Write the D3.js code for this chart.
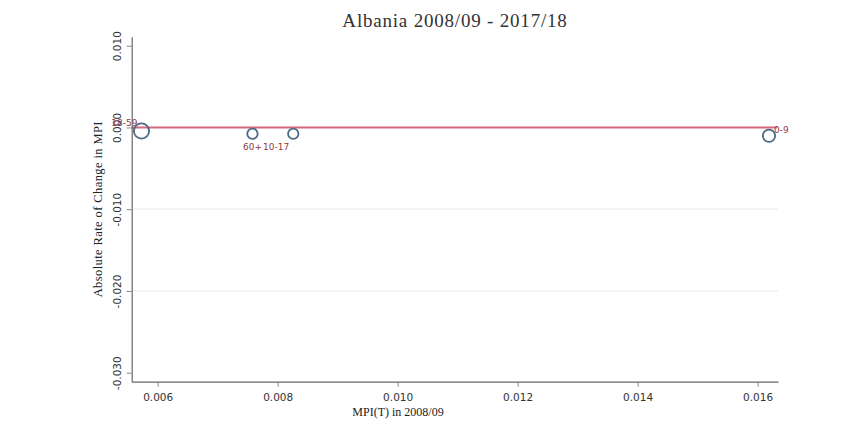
<!DOCTYPE html>
<html>
<head>
<meta charset="utf-8">
<script src="https://cdn.jsdelivr.net/npm/d3@7"></script>
<style>
  html, body { margin: 0; padding: 0; background: #fff; }
  svg { display: block; }
</style>
</head>
<body>
<svg id="chart" width="866" height="432"></svg>
<script>
// ---- data ----
const groups      = ["18-59", "60+", "10-17", "0-9"];
const mpi2008     = [0.00573, 0.00758, 0.00826, 0.01619];
const absChange   = [-0.00044, -0.00077, -0.00077, -0.00102];
const popWeight   = [64, 30, 30, 42];
const xTickValues = [0.006, 0.008, 0.010, 0.012, 0.014, 0.016];
const yTickValues = [0.010, 0.000, -0.010, -0.020, -0.030];
const gridValues  = [0.000, -0.010, -0.020];
const refLineY    = 0.0;
const titleText   = "Albania 2008/09 - 2017/18";
const xTitleText  = "MPI(T) in 2008/09";
const yTitleText  = "Absolute Rate of Change in MPI";

// ---- layout ----
const svg = d3.select("#chart");
const plot = { left: 131.7, right: 778, top: 36.7, bottom: 381.7 };

const x = d3.scaleLinear().domain([0.005567, 0.01634]).range([plot.left, plot.right]);
const y = d3.scaleLinear().domain([-0.0311, 0.0111]).range([plot.bottom, plot.top]);
const r = d3.scaleSqrt().domain([0, 64]).range([0, 7.6]);

const serif = "'Liberation Serif', 'Times New Roman', serif";
const sans = "'DejaVu Sans', Verdana, sans-serif";
const fmt = d => d3.format(".3f")(d).replace("\u2212", "-");

// gridlines
svg.append("g").selectAll("line").data(gridValues).join("line")
  .attr("x1", plot.left).attr("x2", plot.right)
  .attr("y1", d => y(d)).attr("y2", d => y(d))
  .attr("stroke", "#eaf0f2").attr("stroke-width", 1.2);

// reference line
svg.append("line")
  .attr("x1", plot.left).attr("x2", plot.right - 1)
  .attr("y1", y(refLineY)).attr("y2", y(refLineY))
  .attr("stroke", "#d8687d").attr("stroke-width", 2);

// x axis
const xAxis = d3.axisBottom(x).tickValues(xTickValues).tickFormat(fmt)
  .tickSize(5).tickSizeOuter(0);
const gx = svg.append("g").attr("transform", `translate(0,${plot.bottom})`).call(xAxis);
gx.select(".domain").attr("stroke", "#666").attr("stroke-width", 1.2);
gx.selectAll(".tick line").attr("stroke", "#888");
gx.selectAll(".tick text").attr("font-family", sans).attr("font-size", 10.5)
  .attr("fill", "#333").attr("dy", "1.05em");

// y axis
const yAxis = d3.axisLeft(y).tickValues(yTickValues).tickFormat(fmt)
  .tickSize(5).tickSizeOuter(0);
const gy = svg.append("g").attr("transform", `translate(${plot.left},0)`).call(yAxis);
gy.select(".domain").attr("stroke", "#666").attr("stroke-width", 1.2);
gy.selectAll(".tick line").attr("stroke", "#888");
gy.selectAll(".tick text")
  .attr("font-family", sans).attr("font-size", 10.5).attr("fill", "#333")
  .attr("x", null).attr("dy", null)
  .attr("text-anchor", "middle")
  .attr("transform", "translate(-11,0) rotate(-90)")
  .attr("y", 0);

// points
const pts = groups.map((g, i) => ({ g, x: mpi2008[i], y: absChange[i], w: popWeight[i] }));
svg.append("g").selectAll("circle").data(pts).join("circle")
  .attr("cx", d => x(d.x)).attr("cy", d => y(d.y)).attr("r", d => r(d.w))
  .attr("fill", "none").attr("stroke", "#4a6a86").attr("stroke-width", 1.8);

// labels (Stata-like clock positions)
const clock = { "18-59": 10, "60+": 6, "10-17": 7, "0-9": 2 };
svg.append("g").selectAll("text").data(pts).join("text")
  .attr("font-family", sans).attr("font-size", 9).attr("fill", "#8e3a3e")
  .attr("x", d => {
    const cx = x(d.x), c = clock[d.g];
    if (c === 10) return cx - 4;
    if (c === 7) return cx - 4;
    if (c === 2) return cx + 5;
    return cx;
  })
  .attr("y", d => {
    const cy = y(d.y), c = clock[d.g];
    if (c === 10) return cy - 5;
    if (c === 2) return cy - 3;
    return cy + 16;
  })
  .attr("text-anchor", d => {
    const c = clock[d.g];
    if (c === 10 || c === 7) return "end";
    if (c === 2) return "start";
    return "middle";
  })
  .text(d => d.g);

// titles
svg.append("text").attr("x", 455).attr("y", 27).attr("text-anchor", "middle")
  .attr("font-family", serif).attr("font-size", 19).attr("letter-spacing", 0.8)
  .attr("fill", "#333")
  .text(titleText);
svg.append("text").attr("x", 398).attr("y", 416).attr("text-anchor", "middle")
  .attr("font-family", serif).attr("font-size", 12).attr("fill", "#222")
  .text(xTitleText);
svg.append("text").attr("transform", `translate(102,${(plot.top + plot.bottom) / 2}) rotate(-90)`)
  .attr("text-anchor", "middle")
  .attr("font-family", serif).attr("font-size", 12.5).attr("letter-spacing", 0.4)
  .attr("fill", "#222")
  .text(yTitleText);
</script>
</body>
</html>
